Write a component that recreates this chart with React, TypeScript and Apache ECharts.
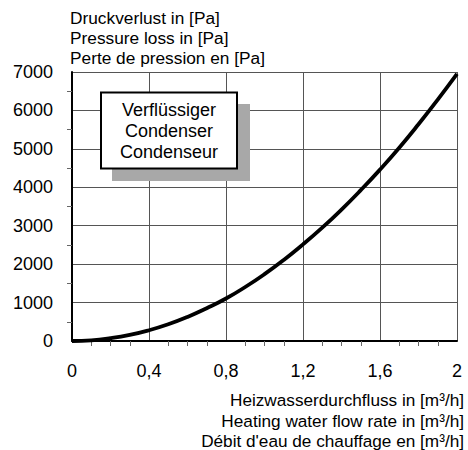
import React, { useEffect, useRef } from "react";
import * as echarts from "echarts";

const flowRate = [0, 0.1, 0.2, 0.3, 0.4, 0.5, 0.6, 0.7, 0.8, 0.9, 1.0, 1.1, 1.2, 1.3, 1.4, 1.5, 1.6, 1.7, 1.8, 1.9, 2.0];
const pressureLoss = [0, 17, 72, 158, 280, 435, 626, 853, 1105, 1405, 1740, 2110, 2515, 2950, 3420, 3925, 4460, 5030, 5640, 6280, 6950];

const yTitleLines = ["Druckverlust in [Pa]", "Pressure loss in [Pa]", "Perte de pression en [Pa]"];
const xTitleLines = ["Heizwasserdurchfluss in [m³/h]", "Heating water flow rate in [m³/h]", "Débit d'eau de chauffage en [m³/h]"];
const boxLines = ["Verflüssiger", "Condenser", "Condenseur"];

const FONT = "Arial, 'Liberation Sans', Helvetica, sans-serif";

export default function App() {
  const ref = useRef<HTMLDivElement>(null);
  useEffect(() => {
    if (!ref.current) return;
    const chart = echarts.init(ref.current, null, { renderer: "svg" });
    const data = flowRate.map((q, i) => [q, pressureLoss[i]]);
    const xTitleCenters = [399.5, 421, 441];
    chart.setOption({
      animation: false,
      backgroundColor: "#fff",
      textStyle: { fontFamily: FONT },
      grid: { left: 72, right: 11, top: 72, bottom: 109, containLabel: false, outerBoundsMode: "none" },
      xAxis: {
        type: "value",
        min: 0,
        max: 2,
        interval: 0.4,
        axisLine: { show: true, onZero: false, lineStyle: { color: "#000", width: 2 } },
        axisTick: { show: false },
        minorTick: { show: true, splitNumber: 4, length: 5, lineStyle: { color: "#666", width: 1 } },
        axisLabel: {
          color: "#000",
          fontSize: 18,
          fontFamily: FONT,
          margin: 21,
          formatter: (v: number) => (Number.isInteger(v) ? String(v) : v.toFixed(1).replace(".", ",")),
        },
        splitLine: { show: true, lineStyle: { color: "#555", width: 1 } },
      },
      yAxis: {
        type: "value",
        min: 0,
        max: 7000,
        interval: 1000,
        axisLine: { show: true, lineStyle: { color: "#000", width: 2 } },
        axisTick: { show: false },
        minorTick: { show: true, splitNumber: 2, length: 5, lineStyle: { color: "#666", width: 1 } },
        axisLabel: { color: "#000", fontSize: 18, fontFamily: FONT, margin: 19, formatter: (v: number) => String(v) },
        splitLine: { show: true, lineStyle: { color: "#555", width: 1 } },
      },
      series: [
        {
          type: "line",
          data,
          smooth: true,
          showSymbol: false,
          symbol: "none",
          lineStyle: { color: "#000", width: 3.8 },
          z: 5,
        },
      ],
      graphic: [
        {
          type: "text",
          left: 70,
          top: 8,
          style: {
            text: yTitleLines.join("\n"),
            font: `17.3px ${FONT}`,
            fill: "#000",
            lineHeight: 20,
            textAlign: "left",
          },
        },
        ...xTitleLines.map((t, i) => ({
          type: "text",
          x: 464,
          y: xTitleCenters[i],
          style: {
            text: t,
            font: `17.2px ${FONT}`,
            fill: "#000",
            lineHeight: 17,
            textAlign: "right",
            textVerticalAlign: "middle",
          },
        })),
        {
          type: "rect",
          shape: { x: 112, y: 104, width: 138, height: 77 },
          style: { fill: "#a8a8a8" },
          z: 10,
        },
        {
          type: "rect",
          shape: { x: 101, y: 92.5, width: 136, height: 76 },
          style: { fill: "#fff", stroke: "#000", lineWidth: 2 },
          z: 11,
        },
        {
          type: "text",
          x: 169,
          y: 99,
          style: {
            text: boxLines.join("\n"),
            font: `18px ${FONT}`,
            fill: "#000",
            lineHeight: 21,
            textAlign: "center",
            textVerticalAlign: "top",
          },
          z: 12,
        },
      ],
    });
    return () => chart.dispose();
  }, []);
  return <div ref={ref} style={{ position: "fixed", left: 0, top: 0, width: 468, height: 450 }} />;
}
